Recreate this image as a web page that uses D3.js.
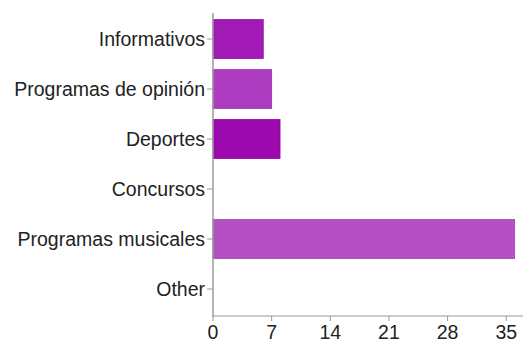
<!DOCTYPE html>
<html>
<head>
<meta charset="utf-8">
<script src="https://cdn.jsdelivr.net/npm/d3@7"></script>
<style>
  html, body { margin: 0; padding: 0; background: #fff; }
  svg { display: block; }
  text { font-family: "Liberation Sans", Arial, sans-serif; fill: #222; }
</style>
</head>
<body>
<svg id="chart" width="526" height="342"></svg>
<script>
// answers per programme type
const categories = ["Informativos", "Programas de opinión", "Deportes", "Concursos", "Programas musicales", "Other"];
const counts = [6, 7, 8, 0, 36, 0];
const barColors = ["#a11ab5", "#ad3cc0", "#9c09ae", "#b04ac2", "#b54fc4", "#b04ac2"];
const tickValues = [0, 7, 14, 21, 28, 35];

const data = categories.map((c, i) => ({ name: c, value: counts[i], color: barColors[i] }));

const svg = d3.select("#chart");
const plotLeft = 213, plotRight = 523, plotTop = 14, plotBottom = 314;
const fontSize = "19.5px";

const x = d3.scaleLinear().domain([0, 37]).range([plotLeft, plotRight]);
const y = d3.scaleBand()
  .domain(categories)
  .range([plotTop, plotBottom])
  .paddingInner(0.22)
  .paddingOuter(0.11);

// bars
svg.append("g")
  .selectAll("rect")
  .data(data.filter(d => d.value > 0))
  .enter()
  .append("rect")
  .attr("x", x(0))
  .attr("y", d => y(d.name))
  .attr("width", d => x(d.value) - x(0))
  .attr("height", y.bandwidth())
  .attr("fill", d => d.color)
  .attr("stroke", d => d3.color(d.color).darker(0.35))
  .attr("stroke-width", 0.8);

// vertical axis with category labels
const yAxis = svg.append("g");
yAxis.append("line")
  .attr("x1", plotLeft).attr("x2", plotLeft)
  .attr("y1", plotTop - 1).attr("y2", plotBottom + 3)
  .attr("stroke", "#9a9a9a").attr("stroke-width", 1.5);

const yTicks = yAxis.selectAll(".ytick")
  .data(categories)
  .enter()
  .append("g")
  .attr("class", "ytick")
  .attr("transform", d => `translate(${plotLeft}, ${y(d) + y.bandwidth() / 2})`);

yTicks.append("line")
  .attr("x1", -6).attr("x2", 0)
  .attr("stroke", "#9a9a9a").attr("stroke-width", 1);

yTicks.append("text")
  .attr("x", -8)
  .attr("text-anchor", "end")
  .attr("dy", "0.36em")
  .style("font-size", fontSize)
  .text(d => d);

// horizontal axis
const xAxis = svg.append("g");
xAxis.append("line")
  .attr("x1", plotLeft).attr("x2", plotRight)
  .attr("y1", plotBottom + 2).attr("y2", plotBottom + 2)
  .attr("stroke", "#9a9a9a").attr("stroke-width", 1.2);

const xTicks = xAxis.selectAll(".xtick")
  .data(tickValues)
  .enter()
  .append("g")
  .attr("class", "xtick")
  .attr("transform", d => `translate(${x(d)}, ${plotBottom + 2})`);

xTicks.append("line")
  .attr("y1", 0).attr("y2", 5)
  .attr("stroke", "#9a9a9a").attr("stroke-width", 1);

xTicks.append("text")
  .attr("y", 23)
  .attr("text-anchor", "middle")
  .style("font-size", fontSize)
  .text(d => d);
</script>
</body>
</html>
